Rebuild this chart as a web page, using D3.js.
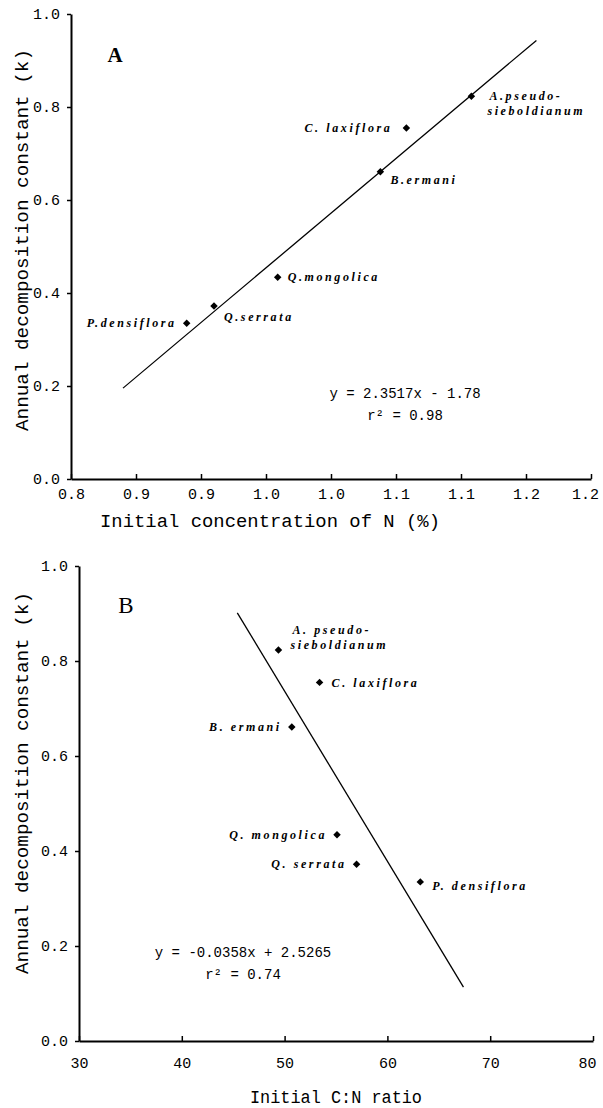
<!DOCTYPE html>
<html>
<head>
<meta charset="utf-8">
<script src="https://cdn.jsdelivr.net/npm/d3@7"></script>
<style>
  body { margin: 0; background: #fff; }
  .axis path, .axis line { stroke: #000; }
  .axis path { stroke-width: 2; }
  .axis line { stroke-width: 1.5; }
</style>
</head>
<body>
<script>
// data
var species = ["A. pseudo-sieboldianum", "C. laxiflora", "B. ermani", "Q. mongolica", "Q. serrata", "P. densiflora"];
var initialN = [1.108, 1.058, 1.038, 0.959, 0.910, 0.889];
var cnRatio = [49.4, 53.4, 50.7, 55.1, 57.0, 63.2];
var kValues = [0.823, 0.755, 0.661, 0.434, 0.372, 0.335];

var labelsA = [["A.pseudo-", "sieboldianum"], ["C. laxiflora"], ["B.ermani"], ["Q.mongolica"], ["Q.serrata"], ["P.densiflora"]];
var labelsB = [["A. pseudo-", "sieboldianum"], ["C. laxiflora"], ["B. ermani"], ["Q. mongolica"], ["Q. serrata"], ["P. densiflora"]];

var xTicksA = [0.80, 0.85, 0.90, 0.95, 1.00, 1.05, 1.10, 1.15, 1.20];
var xTickLabelsA = ["0.8", "0.9", "0.9", "1.0", "1.0", "1.1", "1.1", "1.2", "1.2"];
var xTicksB = [30, 40, 50, 60, 70, 80];
var yTicks = [0, 0.2, 0.4, 0.6, 0.8, 1.0];

// trend lines: [slope, intercept] and x extent
var fitCoefA = [2.3517, -1.78];
var fitRangeA = [0.84, 1.158];
var fitCoefB = [-0.0358, 2.5265];
var fitRangeB = [45.4, 67.4];

var eqA = ["y = 2.3517x - 1.78", "r\u00b2 = 0.98"];
var eqB = ["y = -0.0358x + 2.5265", "r\u00b2 = 0.74"];

var svgWidth = 603;
var svgHeight = 1108;
var monoFont = "'Liberation Mono', 'DejaVu Sans Mono', monospace";
var labelFont = "'Liberation Serif', 'DejaVu Serif', serif";

var svg = d3.select("body")
	.append("svg")
		.attr("width", svgWidth)
		.attr("height", svgHeight);

// label placement relative to each point: [dx, dy, anchor]
var placeA = [[18, 4, "start"], [-14, 4, "end"], [10, 12, "start"], [10, 4, "start"], [10, 15, "start"], [-10, 4, "end"]];
var placeB = [[14, -16, "start"], [12, 5, "start"], [-10, 4, "end"], [-10, 4, "end"], [-10, 4, "end"], [12, 8, "start"]];

function drawPanel(cfg){
	var xScale = d3.scaleLinear().domain(cfg.xDomain).range(cfg.xRange);
	var yScale = d3.scaleLinear().domain([0, 1]).range(cfg.yRange);
	var g = svg.append("g");

	//x axis, ticks pointing into the plot
	var xAxis = d3.axisBottom(xScale)
		.tickValues(cfg.xTicks)
		.tickSizeInner(-5)
		.tickSizeOuter(0)
		.tickPadding(cfg.xPad)
		.tickFormat(function(d, i){ return cfg.xTickLabels[i]; });
	var gx = g.append("g")
		.attr("class", "axis")
		.attr("transform", "translate(0," + cfg.yRange[0] + ")")
		.call(xAxis);
	var n = cfg.xTicks.length;
	gx.selectAll("text")
		.attr("font-family", monoFont)
		.attr("font-size", 15)
		.attr("fill", "#000")
		.attr("dx", function(d, i){ return i == n - 1 ? -6 : 0; });

	var yAxis = d3.axisLeft(yScale)
		.tickValues(yTicks)
		.tickSizeInner(4)
		.tickSizeOuter(0)
		.tickPadding(7)
		.tickFormat(d3.format(".1f"));
	var gy = g.append("g")
		.attr("class", "axis")
		.attr("transform", "translate(" + cfg.xRange[0] + ",0)")
		.call(yAxis);
	gy.selectAll("text")
		.attr("font-family", monoFont)
		.attr("font-size", 15)
		.attr("fill", "#000");

	//axis titles
	g.append("text")
		.attr("x", cfg.xTitlePos[0])
		.attr("y", cfg.xTitlePos[1])
		.attr("text-anchor", "middle")
		.attr("font-family", monoFont)
		.attr("font-size", 18)
		.attr("textLength", cfg.xTitleLen)
		.attr("lengthAdjust", "spacingAndGlyphs")
		.text(cfg.xTitle);
	g.append("text")
		.attr("transform", "translate(" + cfg.yTitlePos[0] + "," + cfg.yTitlePos[1] + ") rotate(-90)")
		.attr("text-anchor", "middle")
		.attr("font-family", monoFont)
		.attr("font-size", 18)
		.attr("textLength", 382)
		.attr("lengthAdjust", "spacingAndGlyphs")
		.text("Annual decomposition constant (k)");

	//panel letter
	g.append("text")
		.attr("x", cfg.letterPos[0])
		.attr("y", cfg.letterPos[1])
		.attr("text-anchor", "middle")
		.attr("font-family", labelFont)
		.attr("font-weight", cfg.letterWeight)
		.attr("font-size", cfg.letterSize)
		.text(cfg.letter);

	//trend line
	var line = d3.line()
		.x(function(d){ return xScale(d); })
		.y(function(d){ return yScale(cfg.fitCoef[0] * d + cfg.fitCoef[1]); });
	g.append("path")
		.datum(cfg.fitRange)
		.attr("fill", "none")
		.attr("stroke", "#000")
		.attr("stroke-width", 1.3)
		.attr("d", line);

	//points
	var pts = cfg.xValues.map(function(x, i){ return {x: x, k: kValues[i], i: i}; });
	g.selectAll(".pt")
		.data(pts)
		.enter().append("path")
		.attr("class", "pt")
		.attr("d", d3.symbol().type(d3.symbolSquare).size(28))
		.attr("transform", function(d){ return "translate(" + xScale(d.x) + "," + yScale(d.k) + ") rotate(45)"; })
		.attr("fill", "#000");

	//species labels
	var lab = g.selectAll(".lab")
		.data(pts)
		.enter().append("text")
		.attr("class", "lab")
		.attr("font-family", labelFont)
		.attr("font-style", "italic")
		.attr("font-weight", "bold")
		.attr("font-size", 12)
		.attr("letter-spacing", 2.6)
		.attr("text-anchor", function(d){ return cfg.place[d.i][2]; })
		.attr("x", function(d){ return xScale(d.x) + cfg.place[d.i][0]; })
		.attr("y", function(d){ return yScale(d.k) + cfg.place[d.i][1]; });
	lab.each(function(d){
		var t = d3.select(this);
		cfg.labels[d.i].forEach(function(s, j){
			t.append("tspan")
				.attr("x", xScale(d.x) + cfg.place[d.i][0] - (j > 0 ? 2 : 0))
				.attr("dy", j > 0 ? 15 : 0)
				.text(s);
		});
	});

	//equation
	cfg.eq.forEach(function(s, j){
		g.append("text")
			.attr("x", cfg.eqPos[0])
			.attr("y", cfg.eqPos[1] + j * 22)
			.attr("text-anchor", "middle")
			.attr("font-family", monoFont)
			.attr("font-size", 14)
			.text(s);
	});
}

drawPanel({
	xDomain: [0.8, 1.2], xRange: [71, 591], yRange: [479, 14],
	xTicks: xTicksA, xTickLabels: xTickLabelsA, xPad: 9,
	xValues: initialN, labels: labelsA, place: placeA,
	fitCoef: fitCoefA, fitRange: fitRangeA, eq: eqA, eqPos: [405, 398],
	xTitle: "Initial concentration of N (%)", xTitlePos: [270, 527], xTitleLen: 340,
	yTitlePos: [28, 240],
	letter: "A", letterPos: [115, 62], letterWeight: "bold", letterSize: 21
});

drawPanel({
	xDomain: [30, 80], xRange: [79, 593], yRange: [1041, 566],
	xTicks: xTicksB, xTickLabels: xTicksB.map(String), xPad: 16,
	xValues: cnRatio, labels: labelsB, place: placeB,
	fitCoef: fitCoefB, fitRange: fitRangeB, eq: eqB, eqPos: [243, 957],
	xTitle: "Initial C:N ratio", xTitlePos: [336, 1103], xTitleLen: 172,
	yTitlePos: [28, 783],
	letter: "B", letterPos: [126, 613], letterWeight: "normal", letterSize: 23
});
</script>
</body>
</html>
